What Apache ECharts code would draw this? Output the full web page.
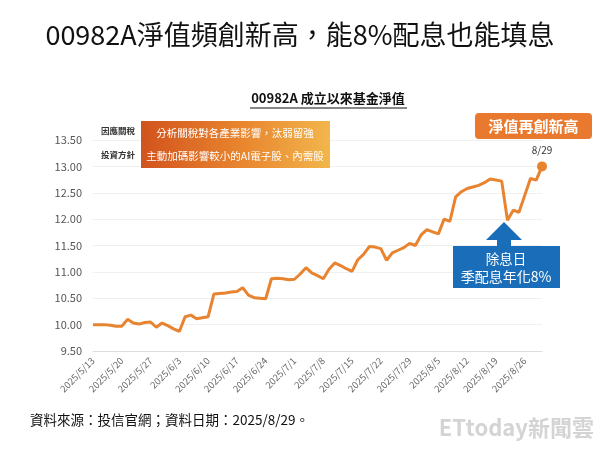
<!DOCTYPE html>
<html>
<head>
<meta charset="utf-8">
<script src="https://cdn.jsdelivr.net/npm/echarts@6/dist/echarts.min.js"></script>
<style>
html, body { margin: 0; padding: 0; background: #fff; }
#main { width: 600px; height: 450px; }
</style>
</head>
<body>
<div id="main"></div>
<script>
// 交易日（週一至週五）
let dates = [
    '2025/5/13', '2025/5/14', '2025/5/15', '2025/5/16', '2025/5/19', '2025/5/20', '2025/5/21', '2025/5/22', '2025/5/23',
    '2025/5/26', '2025/5/27', '2025/5/28', '2025/5/29', '2025/5/30',
    '2025/6/2', '2025/6/3', '2025/6/4', '2025/6/5', '2025/6/6', '2025/6/9', '2025/6/10', '2025/6/11', '2025/6/12', '2025/6/13',
    '2025/6/16', '2025/6/17', '2025/6/18', '2025/6/19', '2025/6/20', '2025/6/23', '2025/6/24', '2025/6/25', '2025/6/26', '2025/6/27',
    '2025/6/30', '2025/7/1', '2025/7/2', '2025/7/3', '2025/7/4', '2025/7/7', '2025/7/8', '2025/7/9', '2025/7/10', '2025/7/11',
    '2025/7/14', '2025/7/15', '2025/7/16', '2025/7/17', '2025/7/18', '2025/7/21', '2025/7/22', '2025/7/23', '2025/7/24', '2025/7/25',
    '2025/7/28', '2025/7/29', '2025/7/30', '2025/7/31', '2025/8/1', '2025/8/4', '2025/8/5', '2025/8/6', '2025/8/7', '2025/8/8',
    '2025/8/11', '2025/8/12', '2025/8/13', '2025/8/14', '2025/8/15', '2025/8/18', '2025/8/19', '2025/8/20', '2025/8/21', '2025/8/22',
    '2025/8/25', '2025/8/26', '2025/8/27', '2025/8/28', '2025/8/29'
];

// 基金淨值
let nav = [
    10.00, 10.00, 10.00, 9.99, 9.97, 9.97, 10.10, 10.03, 10.01, 10.04,
    10.05, 9.95, 10.03, 9.98, 9.92, 9.87, 10.15, 10.18, 10.11, 10.13,
    10.15, 10.58, 10.59, 10.60, 10.62, 10.63, 10.70, 10.56, 10.51, 10.50,
    10.49, 10.87, 10.88, 10.87, 10.85, 10.86, 10.96, 11.08, 10.98, 10.93,
    10.87, 11.05, 11.17, 11.12, 11.06, 11.01, 11.23, 11.33, 11.48, 11.47,
    11.44, 11.22, 11.36, 11.41, 11.46, 11.54, 11.50, 11.70, 11.80, 11.76,
    11.72, 12.00, 11.96, 12.42, 12.52, 12.58, 12.61, 12.64, 12.69, 12.76,
    12.74, 12.72, 11.98, 12.17, 12.13, 12.45, 12.77, 12.74, 13.00
];

let yMin = 9.5;
let yMax = 13.5;
let yStep = 0.5;

let cjk = '"Noto Sans CJK TC", "Noto Sans", sans-serif';
let orange = '#E8832F';
let blue = '#1A6DB8';

// 註解圖形（說明框、箭頭、文字），疊在格線之上
let notes = [
    // 副標題（粗體加底線）
    { type: 'text', x: 328, y: 98, style: { text: '00982A 成立以來基金淨值', font: 'bold 13px ' + cjk, fill: '#111', align: 'center', verticalAlign: 'middle' } },
    { type: 'line', shape: { x1: 250, y1: 108, x2: 407, y2: 108 }, style: { stroke: '#111', lineWidth: 1 } },

    // 左側小標
    { type: 'text', x: 101, y: 131, style: { text: '因應關稅', font: 'bold 8.5px ' + cjk, fill: '#333', verticalAlign: 'middle' } },
    { type: 'text', x: 101, y: 155, style: { text: '投資方針', font: 'bold 8.5px ' + cjk, fill: '#333', verticalAlign: 'middle' } },

    // 橘色漸層說明框
    {
        type: 'rect', shape: { x: 141, y: 121, width: 189, height: 47 },
        style: {
            fill: new echarts.graphic.LinearGradient(0, 0, 1, 0, [
                { offset: 0, color: '#D2531D' },
                { offset: 0.55, color: '#E9872F' },
                { offset: 1, color: '#F2B64C' }
            ])
        }
    },
    { type: 'text', x: 235, y: 133, style: { text: '分析關稅對各產業影響，汰弱留強', font: '10.5px ' + cjk, fill: '#fff', align: 'center', verticalAlign: 'middle' } },
    { type: 'text', x: 235, y: 156, style: { text: '主動加碼影響較小的AI電子股、內需股', font: '10.5px ' + cjk, fill: '#fff', align: 'center', verticalAlign: 'middle' } },

    // 淨值再創新高
    { type: 'rect', shape: { x: 475, y: 113, width: 117, height: 26, r: 4 }, style: { fill: '#E8792E' } },
    { type: 'text', x: 533.5, y: 126, style: { text: '淨值再創新高', font: 'bold 15px ' + cjk, fill: '#fff', align: 'center', verticalAlign: 'middle' } },

    // 除息日箭頭
    {
        type: 'polygon',
        shape: { points: [[504, 222], [522, 240], [511, 240], [511, 246], [560, 246], [560, 288], [453, 288], [453, 246], [497, 246], [497, 240], [486, 240]] },
        style: { fill: blue }
    },
    { type: 'text', x: 506, y: 259, style: { text: '除息日', font: '13.5px ' + cjk, fill: '#fff', align: 'center', verticalAlign: 'middle' } },
    { type: 'text', x: 506, y: 277, style: { text: '季配息年化8%', font: '14px ' + cjk, fill: '#fff', align: 'center', verticalAlign: 'middle' } },

    // 資料來源
    { type: 'text', x: 30, y: 420, style: { text: '資料來源：投信官網；資料日期：2025/8/29。', font: '13.5px ' + cjk, fill: '#111', verticalAlign: 'middle' } },

    // 浮水印
    { type: 'text', x: 594, y: 428, style: { text: 'ETtoday新聞雲', font: 'bold 22px ' + cjk, fill: '#d4d4d4', align: 'right', verticalAlign: 'middle' } }
];
notes.forEach(n => { n.z = 100; });

let option = {
    backgroundColor: '#fff',
    animation: false,
    textStyle: { fontFamily: cjk },

    title: {
        text: '00982A淨值頻創新高，能8%配息也能填息',
        left: 'center',
        top: 16,
        textStyle: { fontFamily: cjk, fontSize: 27, fontWeight: 'normal', color: '#111' }
    },

    grid: { left: 93, right: 58, top: 140, bottom: 99, containLabel: false },

    xAxis: {
        type: 'category',
        data: dates,
        boundaryGap: false,
        axisLine: { show: true, lineStyle: { color: '#ddd' } },
        axisTick: { show: false },
        axisLabel: { interval: 4, rotate: 45, fontSize: 9.5, color: '#666', margin: 8 },
        splitLine: { show: false }
    },
    yAxis: {
        type: 'value',
        min: yMin,
        max: yMax,
        interval: yStep,
        axisLine: { show: false },
        axisTick: { show: false },
        axisLabel: { fontSize: 11, color: '#555', margin: 11, formatter: v => v.toFixed(2) },
        splitLine: { lineStyle: { color: '#f0f0f0' } }
    },

    series: [
        {
            type: 'line',
            data: nav,
            showSymbol: false,
            lineStyle: { color: orange, width: 3 },
            itemStyle: { color: orange },
            markPoint: {
                symbol: 'circle',
                symbolSize: 10,
                itemStyle: { color: orange },
                label: {
                    show: true, position: 'top', distance: 6,
                    formatter: '8/29', color: '#333', fontSize: 10
                },
                data: [{ coord: [dates[dates.length - 1], nav[nav.length - 1]] }]
            }
        }
    ],

    graphic: notes
};

var myChart = echarts.init(document.getElementById('main'));
myChart.setOption(option, true);
</script>
</body>
</html>
